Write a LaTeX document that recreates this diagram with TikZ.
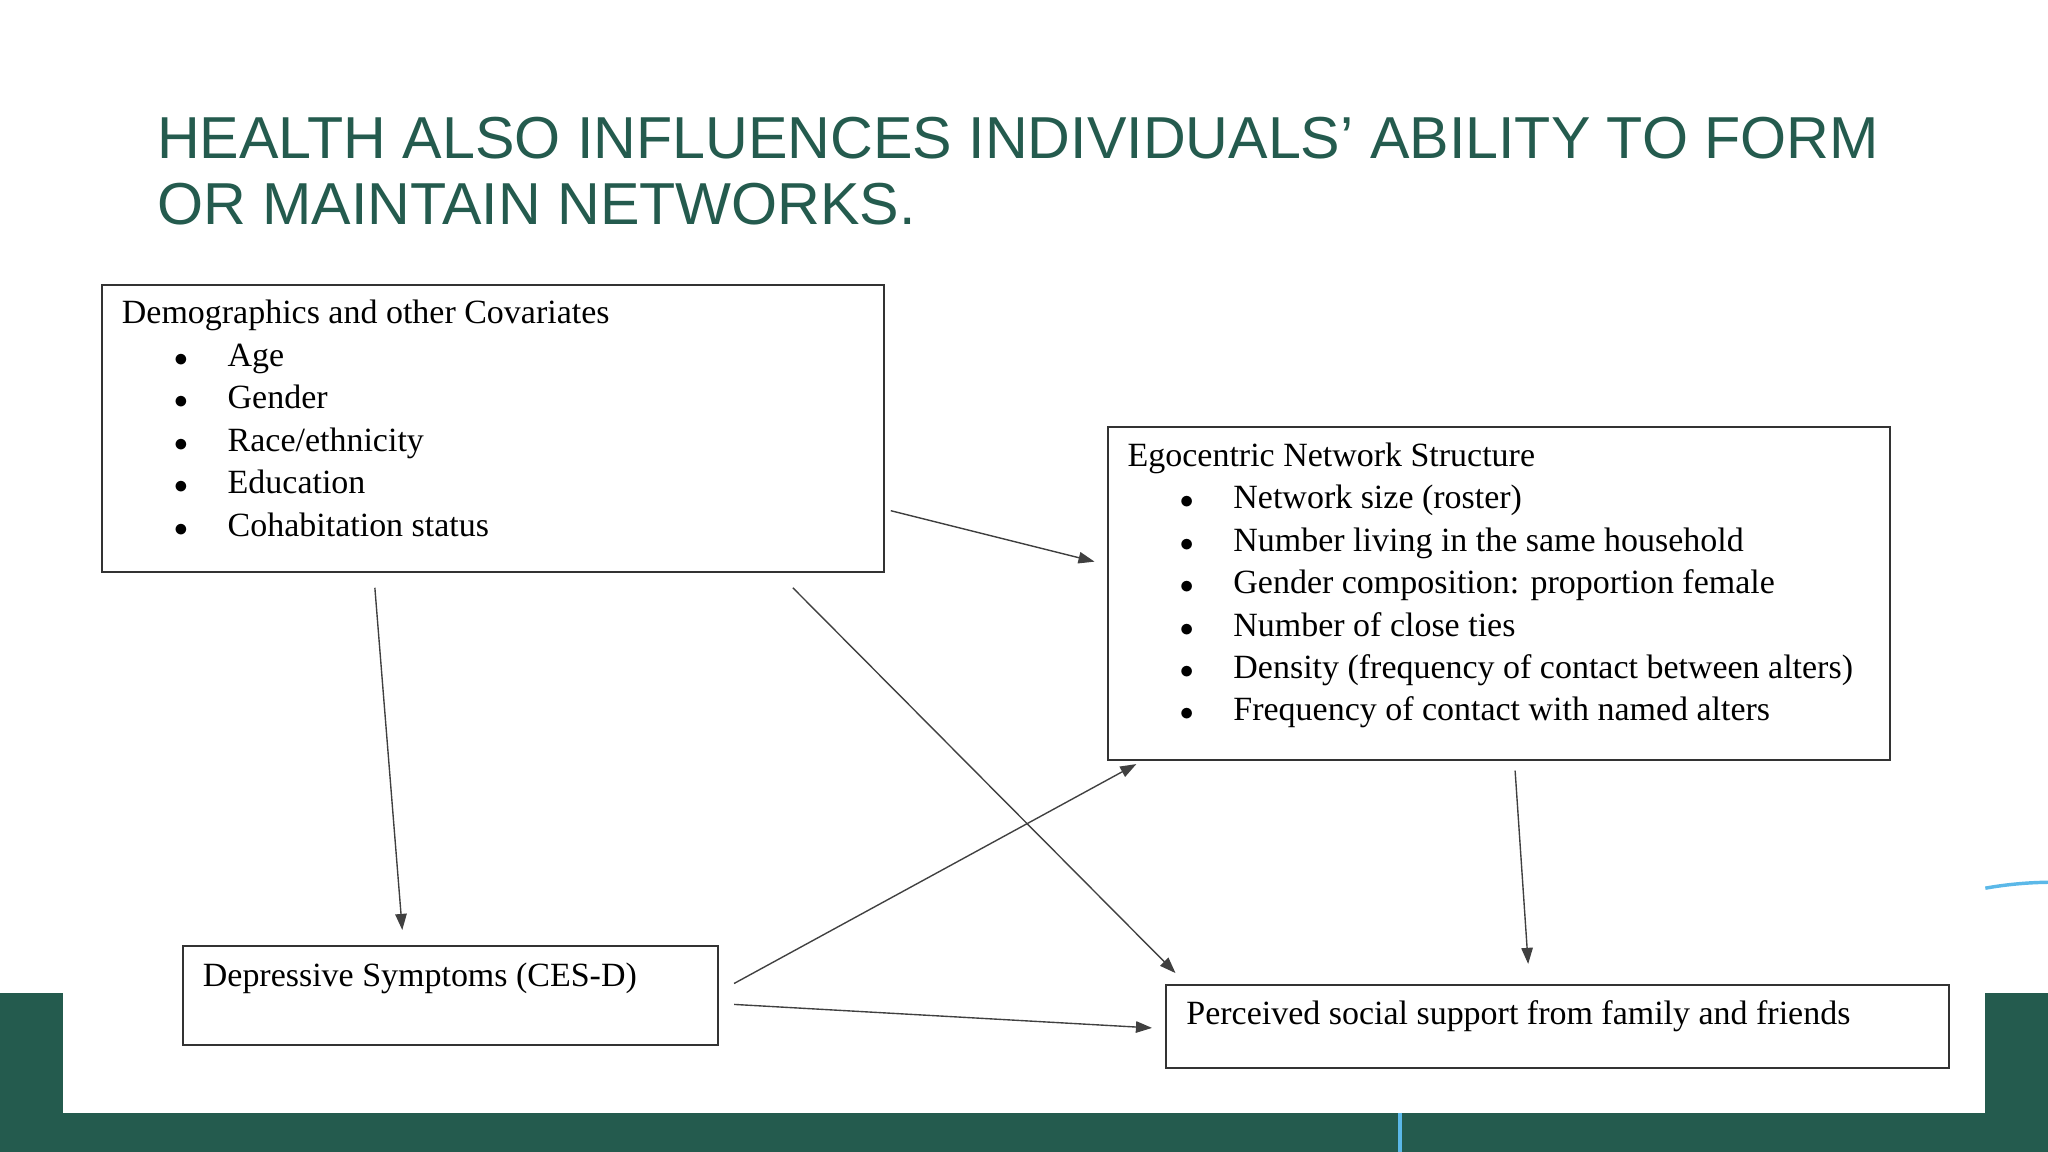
\documentclass[tikz,border=0pt]{standalone}
\usepackage{fontspec}
\setmainfont{Liberation Serif}
\newfontfamily\titlefont{Liberation Sans}
\usetikzlibrary{arrows.meta}
\definecolor{slidegreen}{HTML}{245B4E}
\definecolor{arcblue}{HTML}{5BB8E8}
\newcommand{\bul}{\large$\bullet$}
\begin{document}
\begin{tikzpicture}[x=0.02cm,y=-0.02cm,
    box/.style={draw=black!80,line width=0.9pt},
    txt/.style={anchor=base west,inner sep=0pt,font=\fontsize{14.8}{17}\selectfont},
    link/.style={draw=black!75,line width=0.6pt,-{Triangle[length=7pt,width=5pt]}}]
  \useasboundingbox (0,0) rectangle (1568,882);
  % slide background
  \fill[slidegreen] (0,760) rectangle (1568,882);
  \fill[white] (48,0) rectangle (1520,852);
  \draw[arcblue,line width=1.5pt] (1072,852) -- (1072,882);
  \draw[arcblue,line width=1.5pt] (1520,680) arc[start angle=-100,end angle=-80,radius=300];
  \node[anchor=base west,inner sep=0pt,text=slidegreen,align=left,
        font=\titlefont\fontsize{25.8}{29}\selectfont] (title) at (120,172)
        {HEALTH ALSO INFLUENCES INDIVIDUALS’ ABILITY TO FORM\\OR MAINTAIN NETWORKS.};
  % boxes
  \draw[box] (78,218) rectangle (677,438);
  \node[txt] (demo) at (93,248) {Demographics and other Covariates};
  \foreach \t [count=\i] in {Age,Gender,Race/ethnicity,Education,Cohabitation status}
    {\node[txt] at (133,248+32.5*\i) {\bul};
     \node[txt] at (174,248+32.5*\i) {\t};}
  \draw[box] (848,327) rectangle (1447,582);
  \node[txt] (ego) at (863,357) {Egocentric Network Structure};
  \foreach \t [count=\i] in {Network size (roster),Number living in the same household,
      Gender composition: proportion female,Number of close ties,
      Density (frequency of contact between alters),Frequency of contact with named alters}
    {\node[txt] at (903,357+32.5*\i) {\bul};
     \node[txt] at (944,357+32.5*\i) {\t};}
  \draw[box] (140,724) rectangle (550,800);
  \node[txt] (dep) at (155,755) {Depressive Symptoms (CES-D)};
  \draw[box] (893,754) rectangle (1492,818);
  \node[txt] (perc) at (908,784) {Perceived social support from family and friends};
  % connector ends
  \coordinate (d1) at (682,391); \coordinate (e1) at (838,430);
  \coordinate (d2) at (287,450); \coordinate (p2) at (308,712);
  \coordinate (d3) at (607,450); \coordinate (s3) at (900,745);
  \coordinate (q1) at (562,753); \coordinate (e2) at (870,585);
  \coordinate (q2) at (562,769); \coordinate (s2) at (882,787);
  \coordinate (e3) at (1160,590); \coordinate (s1) at (1170,738);
  \draw[link] (d1) -- (e1);
  \draw[link] (d2) -- (p2);
  \draw[link] (d3) -- (s3);
  \draw[link] (q1) -- (e2);
  \draw[link] (q2) -- (s2);
  \draw[link] (e3) -- (s1);
\end{tikzpicture}
\end{document}
